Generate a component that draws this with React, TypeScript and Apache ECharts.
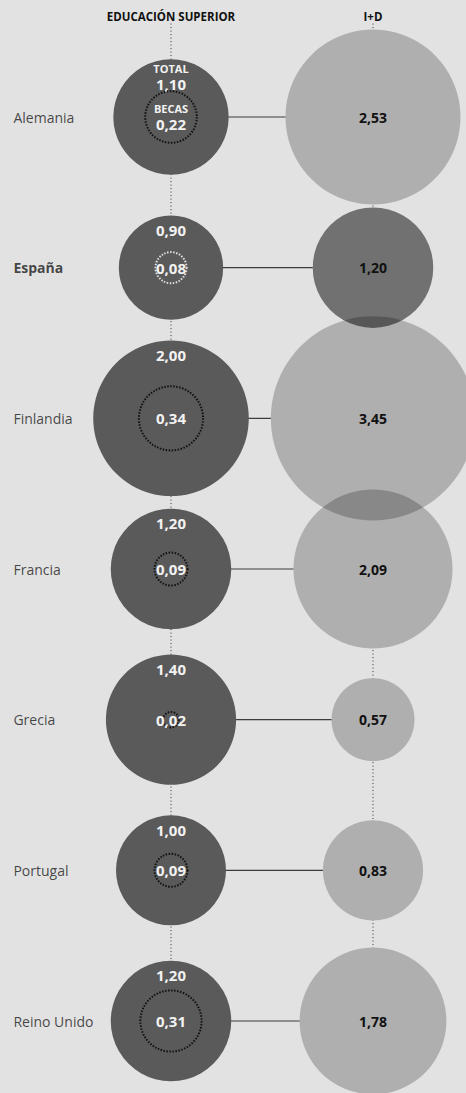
import React, { useEffect, useRef } from "react";
import * as echarts from "echarts";

const countries = ["Alemania", "España", "Finlandia", "Francia", "Grecia", "Portugal", "Reino Unido"];
const eduTotal = [1.1, 0.9, 2.0, 1.2, 1.4, 1.0, 1.2];
const eduBecas = [0.22, 0.08, 0.34, 0.09, 0.02, 0.09, 0.31];
const idValues = [2.53, 1.2, 3.45, 2.09, 0.57, 0.83, 1.78];
const columnLabels = ["EDUCACIÓN SUPERIOR", "I+D"];
const highlight = "España";

const BG = "#e2e2e2";
const K = 110; // px of diameter per sqrt(unit)
const FONT = "'Open Sans', 'Noto Sans', sans-serif";

const fmt = (v: number) => v.toFixed(2).replace(".", ",");
const size = (v: number) => K * Math.sqrt(v);

export default function App() {
  const ref = useRef<HTMLDivElement>(null);

  useEffect(() => {
    document.body.style.margin = "0";
    document.body.style.background = BG;
    const chart = echarts.init(ref.current!, null, { renderer: "svg" });

    const labelX = -0.78;
    const guideTop = -0.62;

    const connectors = countries.map((c, i) => ({
      type: "line",
      name: "conector-" + c,
      data: [
        [labelX, i],
        [1, i],
      ],
      symbol: "none",
      clip: false,
      silent: true,
      z: 2,
      lineStyle: { color: "#3c3c3c", width: 1.2 },
    }));

    const guide = (x: number, name: string) => ({
      type: "line",
      name,
      data: [
        [x, guideTop],
        [x, countries.length - 1],
      ],
      symbol: "none",
      clip: false,
      silent: true,
      z: 1,
      lineStyle: { color: "#333", width: 1, type: [1, 2.5] },
    });

    const white = "#f2f2f2";
    const richLeft = {
      t: { fontFamily: FONT, fontWeight: "bold", fontSize: 11, color: white, lineHeight: 14, align: "center" },
      v: { fontFamily: FONT, fontWeight: "bold", fontSize: 15, color: white, lineHeight: 18, align: "center" },
    };

    const option: any = {
      animation: false,
      backgroundColor: BG,
      grid: { left: 171, right: 93, top: 117, bottom: 72 },
      xAxis: {
        type: "value",
        min: 0,
        max: 1,
        interval: 1,
        position: "top",
        axisLine: { show: false },
        axisTick: { show: false },
        splitLine: { show: false },
        axisLabel: {
          show: true,
          showMinLabel: true,
          showMaxLabel: true,
          margin: 95,
          fontFamily: FONT,
          fontWeight: "bold",
          fontSize: 11.5,
          color: "#111",
          formatter: (v: number) => columnLabels[Math.round(v)] ?? "",
        },
      },
      yAxis: { type: "value", min: 0, max: 6, inverse: true, show: false },
      series: [
        guide(0, "guia-edu"),
        guide(1, "guia-id"),
        ...connectors,
        {
          type: "scatter",
          name: "fondo-id",
          data: idValues.map((v, i) => [1, i, v]),
          symbolSize: (d: number[]) => size(d[2]),
          itemStyle: { color: BG, opacity: 1 },
          silent: true,
          clip: false,
          z: 3,
        },
        {
          type: "scatter",
          name: "I+D",
          data: idValues.map((v, i) => ({
            value: [1, i, v],
            itemStyle: {
              color: countries[i] === highlight ? "rgba(0,0,0,0.5)" : "rgba(0,0,0,0.225)",
            },
          })),
          symbolSize: (d: number[]) => size(d[2]),
          itemStyle: { opacity: 1 },
          clip: false,
          z: 4,
          label: {
            show: true,
            position: "inside",
            fontFamily: FONT,
            fontWeight: "bold",
            fontSize: 14,
            color: "#111",
            formatter: (p: any) => fmt(p.value[2]),
          },
        },
        {
          type: "scatter",
          name: "Educación superior total",
          data: eduTotal.map((v, i) =>
            i === 0 ? { value: [0, i, v], label: { distance: 2 } } : { value: [0, i, v] }
          ),
          symbolSize: (d: number[]) => size(d[2]),
          itemStyle: { color: "#5a5a5a", opacity: 1 },
          clip: false,
          z: 5,
          label: {
            show: true,
            position: "insideTop",
            distance: 7,
            fontFamily: FONT,
            fontWeight: "bold",
            fontSize: 15,
            color: white,
            formatter: (p: any) =>
              p.dataIndex === 0 ? "{t|TOTAL}\n{v|" + fmt(p.value[2]) + "}" : fmt(p.value[2]),
            rich: richLeft,
          },
        },
        {
          type: "scatter",
          name: "Becas",
          data: eduBecas.map((v, i) => ({
            value: [0, i, v],
            itemStyle: {
              borderColor: countries[i] === highlight ? "#e0e0e0" : "#111",
            },
          })),
          symbolSize: (d: number[]) => size(d[2]),
          itemStyle: { color: "rgba(0,0,0,0)", borderWidth: 2, borderType: [1.5, 1.5], opacity: 1 },
          clip: false,
          z: 6,
          label: {
            show: true,
            position: "inside",
            fontFamily: FONT,
            fontWeight: "bold",
            fontSize: 15,
            color: white,
            formatter: (p: any) =>
              p.dataIndex === 0 ? "{t|BECAS}\n{v|" + fmt(p.value[2]) + "}" : fmt(p.value[2]),
            rich: richLeft,
          },
        },
        {
          type: "scatter",
          name: "países",
          data: countries.map((c, i) => ({
            value: [labelX, i],
            name: c,
            label: c === highlight ? { fontWeight: "bold" } : {},
          })),
          symbolSize: 0,
          clip: false,
          silent: true,
          z: 7,
          label: {
            show: true,
            position: "right",
            distance: 0,
            formatter: (p: any) => p.name,
            fontFamily: FONT,
            fontSize: 14,
            color: "#1a1a1a",
            backgroundColor: BG,
            padding: [2, 5, 2, 0],
          },
        },
      ],
    };

    chart.setOption(option);
    return () => chart.dispose();
  }, []);

  return <div ref={ref} style={{ width: 466, height: 1093 }} />;
}
